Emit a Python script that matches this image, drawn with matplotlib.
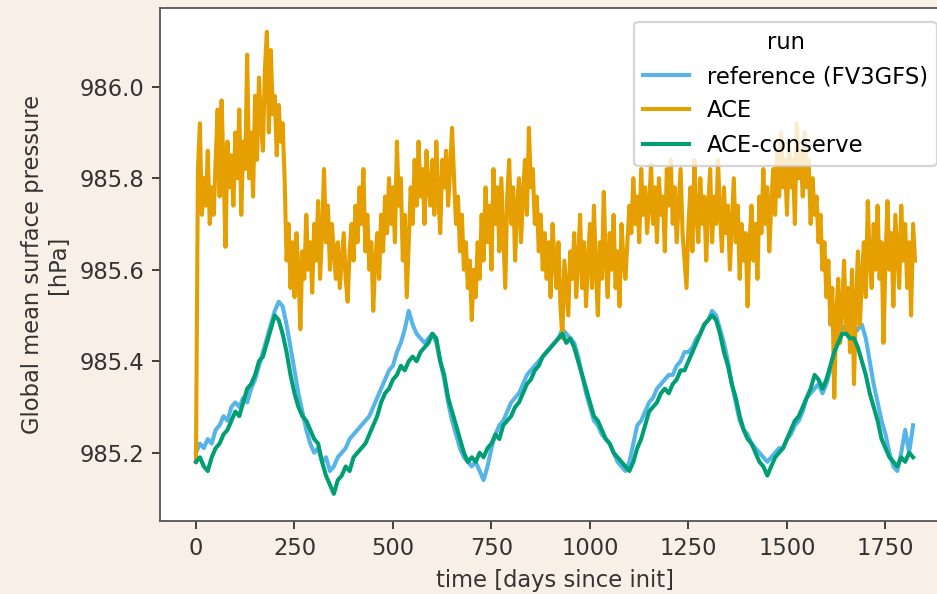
import numpy as np
import matplotlib
matplotlib.use("Agg")
import matplotlib.pyplot as plt

# ---------------- data ----------------
run_names = ["reference (FV3GFS)", "ACE", "ACE-conserve"]
run_colors = ["#56b4e9", "#e69f00", "#009e73"]

# reference (FV3GFS), every 10 days from day 0
reference = [
    985.20, 985.22, 985.21, 985.23, 985.22, 985.25, 985.26, 985.28, 985.27, 985.30,
    985.31, 985.30, 985.32, 985.31, 985.34, 985.36, 985.39, 985.42, 985.45, 985.48,
    985.51, 985.53, 985.52, 985.48, 985.43, 985.38, 985.33, 985.29, 985.25, 985.22,
    985.20, 985.21, 985.18, 985.19, 985.16, 985.17, 985.19, 985.20, 985.21, 985.23,
    985.24, 985.25, 985.26, 985.27, 985.28, 985.30, 985.32, 985.34, 985.36, 985.38,
    985.39, 985.42, 985.44, 985.47, 985.51, 985.48, 985.46, 985.45, 985.44, 985.45,
    985.46, 985.44, 985.40, 985.36, 985.31, 985.27, 985.24, 985.21, 985.19, 985.18,
    985.17, 985.18, 985.16, 985.14, 985.17, 985.21, 985.24, 985.26, 985.27, 985.29,
    985.31, 985.32, 985.33, 985.35, 985.37, 985.38, 985.39, 985.40, 985.41, 985.42,
    985.43, 985.44, 985.45, 985.47, 985.46, 985.45, 985.44, 985.41, 985.37, 985.33,
    985.30, 985.27, 985.26, 985.24, 985.23, 985.22, 985.20, 985.18, 985.17, 985.16,
    985.18, 985.22, 985.26, 985.27, 985.29, 985.31, 985.32, 985.34, 985.35, 985.36,
    985.37, 985.37, 985.39, 985.40, 985.42, 985.42, 985.43, 985.45, 985.46, 985.48,
    985.49, 985.51, 985.50, 985.47, 985.44, 985.40, 985.35, 985.31, 985.27, 985.25,
    985.24, 985.22, 985.21, 985.20, 985.19, 985.18, 985.19, 985.20, 985.21, 985.21,
    985.23, 985.24, 985.26, 985.27, 985.29, 985.32, 985.33, 985.34, 985.35, 985.33,
    985.35, 985.38, 985.42, 985.45, 985.47, 985.48, 985.46, 985.46, 985.47, 985.48,
    985.45, 985.40, 985.35, 985.31, 985.27, 985.24, 985.20, 985.17, 985.16, 985.20,
    985.25, 985.20, 985.26,
]

# ACE, every 5 days from day 0
ace = [
    985.18, 985.82, 985.92, 985.72, 985.80, 985.74, 985.86, 985.70, 985.78, 985.72,
    985.84, 985.95, 985.76, 985.97, 985.82, 985.65, 985.88, 985.78, 985.85, 985.74,
    985.90, 985.80, 985.95, 985.72, 985.88, 985.82, 986.07, 985.80, 985.90, 985.76,
    985.98, 985.84, 986.02, 985.92, 985.86, 986.04, 986.12, 985.90, 986.08, 985.94,
    985.98, 985.85, 985.96, 985.88, 985.92, 985.80, 985.62, 985.70, 985.56, 985.66,
    985.54, 985.68, 985.60, 985.47, 985.64, 985.58, 985.72, 985.60, 985.66, 985.55,
    985.70, 985.62, 985.75, 985.58, 985.68, 985.82, 985.66, 985.74, 985.60, 985.70,
    985.64, 985.58, 985.66, 985.56, 985.62, 985.68, 985.58, 985.53, 985.64, 985.70,
    985.62, 985.74, 985.66, 985.78, 985.70, 985.82, 985.64, 985.72, 985.60, 985.66,
    985.51, 985.62, 985.68, 985.58, 985.72, 985.64, 985.76, 985.68, 985.80, 985.70,
    985.78, 985.66, 985.88, 985.74, 985.80, 985.62, 985.72, 985.54, 985.66, 985.78,
    985.70, 985.84, 985.74, 985.88, 985.76, 985.82, 985.70, 985.86, 985.78, 985.74,
    985.84, 985.72, 985.88, 985.76, 985.68, 985.84, 985.78, 985.86, 985.74, 985.82,
    985.91, 985.80, 985.70, 985.76, 985.64, 985.72, 985.60, 985.66, 985.56, 985.62,
    985.49, 985.60, 985.54, 985.66, 985.58, 985.72, 985.62, 985.78, 985.66, 985.74,
    985.60, 985.82, 985.70, 985.78, 985.64, 985.80, 985.68, 985.56, 985.76, 985.84,
    985.70, 985.78, 985.62, 985.74, 985.80, 985.66, 985.76, 985.84, 985.72, 985.91,
    985.78, 985.82, 985.70, 985.76, 985.64, 985.72, 985.60, 985.68, 985.58, 985.66,
    985.54, 985.70, 985.62, 985.56, 985.66, 985.52, 985.45, 985.62, 985.56, 985.50,
    985.64, 985.58, 985.68, 985.54, 985.62, 985.72, 985.56, 985.66, 985.52, 985.62,
    985.70, 985.56, 985.74, 985.60, 985.50, 985.66, 985.58, 985.77, 985.62, 985.54,
    985.68, 985.60, 985.72, 985.56, 985.64, 985.52, 985.70, 985.62, 985.58, 985.66,
    985.74, 985.68, 985.80, 985.70, 985.76, 985.66, 985.82, 985.72, 985.78, 985.68,
    985.74, 985.83, 985.70, 985.78, 985.66, 985.80, 985.72, 985.76, 985.64, 985.82,
    985.74, 985.84, 985.70, 985.78, 985.66, 985.74, 985.82, 985.68, 985.62, 985.56,
    985.70, 985.78, 985.64, 985.84, 985.72, 985.66, 985.80, 985.70, 985.76, 985.62,
    985.74, 985.82, 985.66, 985.76, 985.70, 985.84, 985.72, 985.64, 985.78, 985.68,
    985.74, 985.60, 985.70, 985.80, 985.66, 985.74, 985.58, 985.70, 985.62, 985.68,
    985.52, 985.66, 985.74, 985.62, 985.70, 985.58, 985.76, 985.68, 985.82, 985.70,
    985.78, 985.64, 985.74, 985.82, 985.72, 985.86, 985.76, 985.90, 985.78, 985.84,
    985.72, 985.88, 985.78, 985.84, 985.70, 985.92, 985.80, 985.86, 985.76, 985.90,
    985.78, 985.84, 985.70, 985.80, 985.72, 985.76, 985.66, 985.72, 985.60, 985.66,
    985.54, 985.62, 985.48, 985.56, 985.32, 985.50, 985.58, 985.44, 985.52, 985.62,
    985.46, 985.56, 985.42, 985.60, 985.35, 985.52, 985.64, 985.48, 985.58, 985.66,
    985.54, 985.75, 985.62, 985.56, 985.70, 985.60, 985.74, 985.58, 985.66, 985.44,
    985.62, 985.75, 985.60, 985.68, 985.52, 985.72, 985.64, 985.56, 985.74, 985.62,
    985.70, 985.56, 985.66, 985.50, 985.70, 985.62,
]

# ACE-conserve, every 10 days from day 0
ace_conserve = [
    985.18, 985.19, 985.17, 985.16, 985.19, 985.21, 985.22, 985.24, 985.25, 985.27,
    985.29, 985.28, 985.31, 985.34, 985.35, 985.37, 985.40, 985.41, 985.44, 985.47,
    985.50, 985.49, 985.46, 985.42, 985.37, 985.33, 985.30, 985.28, 985.27, 985.25,
    985.23, 985.22, 985.18, 985.15, 985.13, 985.11, 985.14, 985.15, 985.17, 985.16,
    985.19, 985.20, 985.21, 985.22, 985.24, 985.26, 985.28, 985.31, 985.33, 985.34,
    985.36, 985.37, 985.39, 985.38, 985.40, 985.41, 985.40, 985.42, 985.43, 985.44,
    985.46, 985.45, 985.40, 985.37, 985.32, 985.29, 985.26, 985.23, 985.20, 985.18,
    985.19, 985.18, 985.20, 985.19, 985.21, 985.22, 985.24, 985.23, 985.26, 985.27,
    985.28, 985.30, 985.31, 985.33, 985.35, 985.36, 985.38, 985.39, 985.41, 985.42,
    985.43, 985.44, 985.45, 985.46, 985.44, 985.45, 985.43, 985.40, 985.37, 985.34,
    985.31, 985.28, 985.27, 985.25, 985.23, 985.22, 985.20, 985.19, 985.18, 985.17,
    985.16, 985.18, 985.21, 985.23, 985.26, 985.29, 985.30, 985.31, 985.33, 985.34,
    985.33, 985.35, 985.36, 985.38, 985.38, 985.40, 985.42, 985.44, 985.46, 985.48,
    985.49, 985.50, 985.49, 985.46, 985.42, 985.39, 985.35, 985.32, 985.28, 985.25,
    985.23, 985.22, 985.20, 985.18, 985.17, 985.15, 985.17, 985.19, 985.20, 985.21,
    985.23, 985.25, 985.27, 985.28, 985.30, 985.32, 985.34, 985.37, 985.36, 985.34,
    985.36, 985.39, 985.42, 985.44, 985.46, 985.46, 985.45, 985.45, 985.43, 985.40,
    985.37, 985.33, 985.30, 985.27, 985.23, 985.21, 985.19, 985.18, 985.17, 985.19,
    985.18, 985.20, 985.19,
]

x_ticks = [0, 250, 500, 750, 1000, 1250, 1500, 1750]
y_ticks = [985.2, 985.4, 985.6, 985.8, 986.0]

# ---------------- figure ----------------
DPI = 163
fig = plt.figure(figsize=(938 / DPI, 594 / DPI), dpi=DPI, facecolor="#f8f0e7")
ax = fig.add_axes([160 / 938, 1 - 520.7 / 594, 791 / 938, 512.7 / 594])
ax.set_facecolor("white")

series = [reference, ace, ace_conserve]
steps = [10, 5, 10]
for name, color, vals, step in zip(run_names, run_colors, series, steps):
    days = np.arange(len(vals)) * step
    ax.plot(days, vals, color=color, lw=1.8, label=name)

ax.set_xlim(-91.25, 1916.25)
ax.set_ylim(985.0514, 986.172)
ax.set_xticks(x_ticks)
ax.set_yticks(y_ticks)
ax.yaxis.get_major_formatter().set_useOffset(False)
ax.set_yticklabels([f"{v:.1f}" for v in y_ticks])

ax.set_xlabel("time [days since init]", color="#333333")
ax.set_ylabel("Global mean surface pressure\n[hPa]", color="#333333")
ax.tick_params(colors="#333333")
for s in ax.spines.values():
    s.set_color("#555555")

leg = ax.legend(title="run", loc="upper right",
                bbox_to_anchor=(937 / 938, 1 - 21.7 / 594),
                bbox_transform=fig.transFigure, borderaxespad=0)

fig.savefig("out.png", dpi=DPI, facecolor=fig.get_facecolor())
